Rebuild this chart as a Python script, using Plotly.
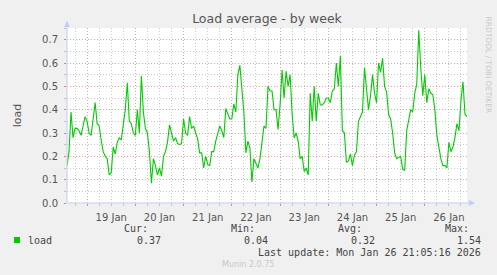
import plotly.graph_objects as go
import pandas as pd

# ---- data (hourly load average) ----
start_time = "2026-01-18 14:00"
load_values = [
    0.16, 0.22, 0.39, 0.28, 0.32, 0.32, 0.31, 0.29, 0.33, 0.37,
    0.35, 0.30, 0.29, 0.36, 0.43, 0.34, 0.33, 0.27, 0.22, 0.20,
    0.19, 0.12, 0.13, 0.24, 0.21, 0.26, 0.28, 0.27, 0.34, 0.40,
    0.515, 0.35, 0.34, 0.30, 0.29,
    0.40, 0.30, 0.545, 0.39, 0.32, 0.30, 0.22, 0.085, 0.19, 0.16,
    0.12, 0.15, 0.115, 0.20, 0.22, 0.26, 0.335, 0.30, 0.265, 0.28,
    0.255, 0.25, 0.255, 0.36, 0.30, 0.29, 0.37, 0.32, 0.33, 0.30,
    0.275, 0.215, 0.215,
    0.15, 0.20, 0.165, 0.16, 0.22, 0.22, 0.265, 0.30, 0.33, 0.31,
    0.28, 0.405, 0.385, 0.36, 0.36, 0.425, 0.39, 0.55, 0.59, 0.49,
    0.39, 0.215, 0.265, 0.235, 0.09, 0.19, 0.17, 0.15, 0.19, 0.25,
    0.33, 0.32, 0.50,
    0.48, 0.48, 0.40, 0.40, 0.315, 0.42, 0.57, 0.45, 0.565, 0.50,
    0.55, 0.38, 0.28, 0.30, 0.265, 0.19, 0.20, 0.135, 0.15, 0.12,
    0.47, 0.35, 0.50, 0.35, 0.47, 0.42, 0.42, 0.43, 0.45, 0.45,
    0.43, 0.48, 0.49, 0.60,
    0.50, 0.63, 0.31, 0.30, 0.175, 0.18, 0.21, 0.16, 0.205, 0.22,
    0.35, 0.37, 0.39, 0.58, 0.47, 0.40, 0.46, 0.55, 0.47, 0.43,
    0.60, 0.56, 0.62, 0.50, 0.475, 0.38, 0.36, 0.30, 0.215, 0.19,
    0.195, 0.20, 0.145,
    0.14, 0.31, 0.35, 0.40, 0.39, 0.47, 0.51, 0.74, 0.58, 0.46,
    0.55, 0.43, 0.49, 0.47, 0.465, 0.40, 0.29, 0.23, 0.19, 0.16,
    0.16, 0.15, 0.26, 0.22, 0.24, 0.28, 0.34, 0.31, 0.44, 0.52,
    0.38, 0.37,
]
x_range = ["2026-01-18 14:00", "2026-01-26 21:00"]
y_range = [0, 0.75]

series_name = "load"
stat_labels = ["Cur:", "Min:", "Avg:", "Max:"]
stat_values = ["0.37", "0.04", "0.32", "1.54"]
title_text = "Load average - by week"
y_title = "load"
last_update = "Last update: Mon Jan 26 21:05:16 2026"
footer = "Munin 2.0.75"
side_text = "RRDTOOL / TOBI OETIKER"

times = pd.date_range(start=start_time, periods=len(load_values), freq="h")

# ---- geometry helpers (figure pixels -> paper coords) ----
W, H = 497, 275
L, R, T, B = 67, 30, 28, 72
PW, PH = W - L - R, H - T - B


def px(x):
    return (x - L) / PW


def py(y):
    return (H - B - y) / PH


GREEN = "#00CC00"
AXIS = "#C4CCF2"
RED_GRID = "#E8A4A4"
GREY_GRID = "#CACACA"
DOTS = "1px,2px"
MONO = "DejaVu Sans Mono"
SANS = "DejaVu Sans"

fig = go.Figure()
fig.add_trace(go.Scatter(
    x=times, y=load_values, mode="lines",
    line=dict(color=GREEN, width=1.1), hoverinfo="skip", showlegend=False,
))

fig.update_layout(
    width=W, height=H,
    margin=dict(l=L, r=R, t=T, b=B, pad=0),
    paper_bgcolor="#F0F0F0",
    plot_bgcolor="#FFFFFF",
    showlegend=False,
    title=dict(text=title_text, x=0.5, xanchor="center", xref="paper",
               y=1 - 19 / H, yanchor="middle", yref="container",
               font=dict(family=SANS, size=12.5, color="#555")),
    font=dict(family=SANS, size=10, color="#555"),
)

fig.update_xaxes(
    type="date", range=x_range,
    dtick=86400000, tick0="2026-01-18 00:00",
    ticklabelmode="period", tickformat="%d %b",
    showgrid=True, gridcolor=RED_GRID, griddash=DOTS, gridwidth=1,
    ticks="outside", ticklen=2, tickcolor="#E08080",
    tickfont=dict(family=SANS, size=10, color="#555"),
    showline=False, zeroline=False,
    minor=dict(dtick=6 * 3600000, tick0="2026-01-18 00:00", showgrid=True,
               gridcolor=GREY_GRID, griddash=DOTS, gridwidth=1,
               ticks="outside", ticklen=2, tickcolor="#C0C0C0"),
    ticklabelstandoff=3,
)
fig.update_yaxes(
    range=y_range, dtick=0.1, tick0=0, tickformat=".1f",
    showgrid=True, gridcolor=RED_GRID, griddash=DOTS, gridwidth=1,
    ticks="outside", ticklen=2, tickcolor="#E08080",
    tickfont=dict(family=SANS, size=10, color="#555"),
    showline=False, zeroline=False,
    minor=dict(dtick=0.05, tick0=0, showgrid=True, gridcolor=GREY_GRID,
               griddash=DOTS, gridwidth=1,
               ticks="outside", ticklen=2, tickcolor="#C0C0C0"),
    ticklabelstandoff=4,
    title=dict(text=y_title, font=dict(family=SANS, size=11, color="#555"),
               standoff=18),
)

shapes = []
# axis lines with arrows
shapes.append(dict(type="line", xref="paper", yref="paper",
                   x0=px(67), x1=px(67), y0=py(203), y1=py(22),
                   line=dict(color=AXIS, width=1)))
shapes.append(dict(type="line", xref="paper", yref="paper",
                   x0=px(67), x1=px(472), y0=py(203), y1=py(203),
                   line=dict(color=AXIS, width=1)))
shapes.append(dict(type="path", xref="paper", yref="paper",
                   path=f"M {px(64)} {py(27)} L {px(70)} {py(27)} L {px(67)} {py(21)} Z",
                   fillcolor=AXIS, line=dict(width=0)))
shapes.append(dict(type="path", xref="paper", yref="paper",
                   path=f"M {px(469)} {py(200)} L {px(469)} {py(206)} L {px(475)} {py(203)} Z",
                   fillcolor=AXIS, line=dict(width=0)))
# legend swatch
shapes.append(dict(type="rect", xref="paper", yref="paper",
                   x0=px(14), x1=px(20), y0=py(243), y1=py(237),
                   fillcolor=GREEN, line=dict(width=0)))
fig.update_layout(shapes=shapes)

ann = []
stat_label_right = [150, 257, 364, 471]
stat_value_right = [163, 270, 377, 483]
for lab, xr in zip(stat_labels, stat_label_right):
    ann.append(dict(text=lab, x=px(xr), y=py(228), xanchor="right", yanchor="middle"))
for val, xr in zip(stat_values, stat_value_right):
    ann.append(dict(text=val, x=px(xr), y=py(240), xanchor="right", yanchor="middle"))
ann.append(dict(text=series_name, x=px(26), y=py(240), xanchor="left", yanchor="middle"))
ann.append(dict(text=last_update, x=px(483), y=py(252), xanchor="right", yanchor="middle"))
for a in ann:
    a.update(xref="paper", yref="paper", showarrow=False,
             font=dict(family=MONO, size=10, color="#444"))
ann.append(dict(text=footer, x=px(248), y=py(264), xref="paper", yref="paper",
                xanchor="center", yanchor="middle", showarrow=False,
                font=dict(family=SANS, size=8, color="#C8C8C8")))
ann.append(dict(text=side_text, x=px(488), y=py(14), xref="paper", yref="paper",
                xanchor="center", yanchor="top", textangle=90, showarrow=False,
                font=dict(family=SANS, size=7.5, color="#C8C8C8")))
fig.update_layout(annotations=ann)

fig.write_html("out.html")
